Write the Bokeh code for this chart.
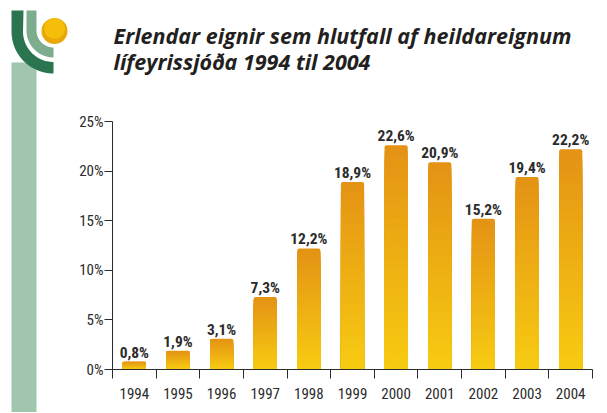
import numpy as np
from bokeh.plotting import figure
from bokeh.layouts import row, column
from bokeh.models import FixedTicker, PrintfTickFormatter, Range1d, ColumnDataSource
from bokeh.core.properties import value
from bokeh.embed import file_html
from bokeh.resources import INLINE

# ---- data ----
years = ["1994", "1995", "1996", "1997", "1998", "1999", "2000", "2001", "2002", "2003", "2004"]
shares = [0.8, 1.9, 3.1, 7.3, 12.2, 18.9, 22.6, 20.9, 15.2, 19.4, 22.2]
y_ticks = [0, 5, 10, 15, 20, 25]
title_lines = ["Erlendar eignir sem hlutfall af heildareignum", "lífeyrissjóða 1994 til 2004"]

LABEL_FONT = "Roboto Condensed, Roboto, sans-serif"
TEXT_COLOR = "#2b2b2b"
H = 412
HEAD = 111
W_LOGO = 68
W_MAIN = 531

# ---- logo / left stripe figure (pixel coordinates, y pointing up = -page_y) ----
logo = figure(width=W_LOGO, height=H, output_backend="svg", toolbar_location=None,
              x_range=Range1d(0, W_LOGO), y_range=Range1d(-H, 0),
              min_border=0, outline_line_color=None)
logo.frame_align = False
logo.axis.visible = False
logo.grid.visible = False

def band(x0, x1, top, cx, cy, R, r, steps=30):
    xs = [x0, x0]
    ys = [top, cy]
    for a in np.linspace(np.pi, np.pi / 2, steps):
        xs.append(cx + R * np.cos(a))
        ys.append(cy + R * np.sin(a))
    for a in np.linspace(np.pi / 2, np.pi, steps):
        xs.append(cx + r * np.cos(a))
        ys.append(cy + r * np.sin(a))
    xs.append(x1)
    ys.append(top)
    return xs, [-y for y in ys]

logo.quad(left=[11], right=[36], bottom=[-H - 10], top=[-62], fill_color="#a0c6ad", line_color=None)
bx, by = band(11, 23, 10, 53, 31, 42, 30.5)
logo.patch(bx, by, fill_color="#2a7550", line_color=None)
bx, by = band(26, 36, 10, 53, 30, 27, 17)
logo.patch(bx, by, fill_color="#7dad8e", line_color=None)
logo.circle(x=[54], y=[-30.5], radius=13, fill_color="#e9a708", line_color=None)
logo.circle(x=[54], y=[-28], radius=10.5, fill_color="#f6c40c", line_color=None, fill_alpha=0.8)

# ---- header (title) figure, pixel coordinates relative to its own left edge ----
head = figure(width=W_MAIN, height=HEAD, output_backend="svg", toolbar_location=None,
              x_range=Range1d(0, W_MAIN), y_range=Range1d(-HEAD, 0),
              min_border=0, outline_line_color=None)
head.frame_align = False
head.axis.visible = False
head.grid.visible = False
head.text(x=[45, 45], y=[-35, -61], text=title_lines,
          text_font=value("Open Sans"), text_font_style="bold italic",
          text_font_size="21.5px", text_color="#231f20",
          text_align="left", text_baseline="alphabetic")

# ---- main chart ----
n = len(years)
p = figure(width=W_MAIN, height=H - HEAD, output_backend="svg", toolbar_location=None,
           x_range=Range1d(0, n), y_range=Range1d(0, 25),
           min_border_left=44, min_border_right=7, min_border_bottom=H - 369,
           min_border_top=121 - HEAD,
           outline_line_color=None, background_fill_color="white")
p.frame_align = False
p.grid.visible = False

# gradient bars: nested bars from full height (orange) down to short (yellow)
N = 40
top_rgb = np.array([0xE4, 0x93, 0x14])
bot_rgb = np.array([0xF7, 0xCB, 0x12])
xs = np.arange(n) + 0.5
vals = np.array(shares)
for k in range(N):
    t = k / (N - 1)
    c = (top_rgb * (1 - t) + bot_rgb * t).round().astype(int)
    col = "#%02x%02x%02x" % tuple(c)
    kw = {}
    if k == 0:
        kw["border_radius"] = [2, 2, 0, 0]
    p.vbar(x=xs, top=vals * (N - k) / N, bottom=0, width=0.53,
           fill_color=col, line_color=None, **kw)

# value labels
lab_src = ColumnDataSource(dict(x=xs, y=vals,
                                t=[("%.1f" % v).replace(".", ",") + "%" for v in shares]))
p.text(x="x", y="y", text="t", source=lab_src, y_offset=-9,
       text_align="center", text_baseline="alphabetic",
       text_font=value(LABEL_FONT), text_font_style="bold",
       text_font_size="15.5px", text_color=TEXT_COLOR)

# axes
xa = p.xaxis[0]
xa.ticker = FixedTicker(ticks=list(xs), minor_ticks=list(range(n + 1)))
xa.major_label_overrides = {float(x): y for x, y in zip(xs, years)}
xa.major_tick_out = 0
xa.major_tick_in = 0
xa.minor_tick_out = 9
xa.minor_tick_in = 0
xa.minor_tick_line_color = TEXT_COLOR
xa.axis_line_color = TEXT_COLOR
xa.major_label_standoff = 9
xa.major_label_text_font = LABEL_FONT
xa.major_label_text_font_size = "15px"
xa.major_label_text_color = TEXT_COLOR

ya = p.yaxis[0]
ya.ticker = FixedTicker(ticks=y_ticks, minor_ticks=[])
ya.formatter = PrintfTickFormatter(format="%d%%")
ya.major_tick_out = 8
ya.major_tick_in = 0
ya.major_tick_line_color = TEXT_COLOR
ya.axis_line_color = TEXT_COLOR
ya.major_label_standoff = 1
ya.major_label_text_font = LABEL_FONT
ya.major_label_text_font_size = "15px"
ya.major_label_text_color = TEXT_COLOR

layout = row(logo, column(head, p, spacing=0), spacing=0)
open("out.html", "w").write(file_html(layout, INLINE))
